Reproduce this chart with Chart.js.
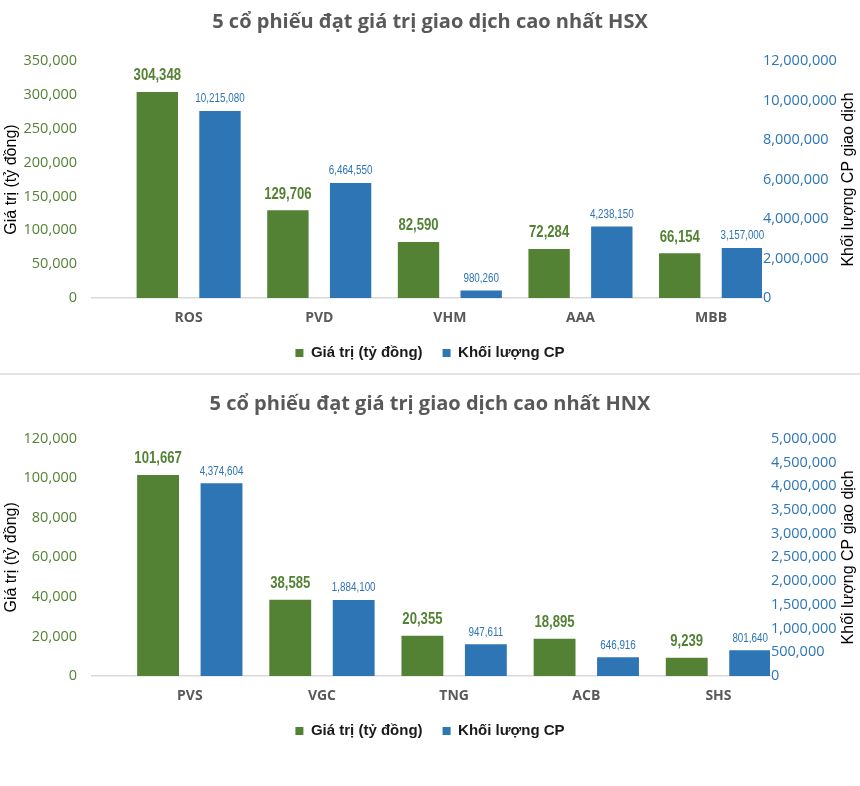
<!DOCTYPE html>
<html>
<head>
<meta charset="utf-8">
<script src="https://cdn.jsdelivr.net/npm/chart.js@4.4.1/dist/chart.umd.min.js"></script>
<style>
  body { margin: 0; background: #fff; }
  #wrap { width: 860px; height: 786px; position: relative; }
  canvas { display: block; }
  .sep { height: 2px; background: #e4e4e4; margin: 1px 0 2px 0; }
</style>
</head>
<body>
<div id="wrap">
  <canvas id="hsx" width="860" height="372"></canvas>
  <div class="sep"></div>
  <canvas id="hnx" width="860" height="409"></canvas>
</div>
<script>
// HSX
const hsxStocks = ['ROS', 'PVD', 'VHM', 'AAA', 'MBB'];
const hsxValue = [304348, 129706, 82590, 72284, 66154];
const hsxVolume = [9470000, 5820000, 385000, 3620000, 2530000];   // bar heights as drawn
const hsxVolumeText = [10215080, 6464550, 980260, 4238150, 3157000]; // printed labels
const hsxLeftTicks = { max: 350000, step: 50000 };
const hsxRightTicks = { max: 12000000, step: 2000000 };

// HNX
const hnxStocks = ['PVS', 'VGC', 'TNG', 'ACB', 'SHS'];
const hnxValue = [101667, 38585, 20355, 18895, 9239];
const hnxVolume = [4060000, 1600000, 668000, 394000, 541000];
const hnxVolumeText = [4374604, 1884100, 947611, 646916, 801640];
const hnxLeftTicks = { max: 120000, step: 20000 };
const hnxRightTicks = { max: 5000000, step: 500000 };

const GREEN = '#548235';
const BLUE = '#2E75B6';
const ARIAL = '"Liberation Sans", Arial, sans-serif';

Chart.defaults.font.family = '"Open Sans", sans-serif';
const fmt = v => Number(v).toLocaleString('en-US');

// value labels above bars, squeezed to look like Arial Narrow
const barLabels = {
  id: 'barLabels',
  afterDatasetsDraw(chart) {
    const ctx = chart.ctx;
    chart.data.datasets.forEach((ds, i) => {
      const meta = chart.getDatasetMeta(i);
      meta.data.forEach((bar, j) => {
        ctx.save();
        ctx.translate(bar.x, bar.y - ds.labelGap);
        ctx.scale(0.82, 1);
        ctx.font = ds.labelFont;
        ctx.fillStyle = ds.labelColor;
        ctx.textAlign = 'center';
        ctx.textBaseline = 'middle';
        ctx.fillText(fmt(ds.labelTexts[j]), 0, 0);
        ctx.restore();
      });
    });
  }
};

// right axis title reads bottom-to-top like the left one
const rightTitle = {
  id: 'rightTitle',
  afterDraw(chart, args, opts) {
    const ctx = chart.ctx;
    const a = chart.chartArea;
    ctx.save();
    ctx.translate(opts.x, (a.top + a.bottom) / 2);
    ctx.rotate(-Math.PI / 2);
    ctx.font = '16px ' + ARIAL;
    ctx.fillStyle = '#000';
    ctx.textAlign = 'center';
    ctx.textBaseline = 'middle';
    ctx.fillText(opts.text, 0, 0);
    ctx.restore();
  }
};

function makeChart(id, title, stocks, values, volumes, volumeText, leftT, rightT, lay) {
  new Chart(document.getElementById(id), {
    type: 'bar',
    data: {
      datasets: [{
        label: 'Giá trị (tỷ đồng)',
        data: values.map((v, i) => ({ x: i, y: v })),
        backgroundColor: GREEN,
        yAxisID: 'y',
        labelTexts: values,
        labelFont: 'bold 16px ' + ARIAL,
        labelColor: GREEN,
        labelGap: 16
      }, {
        label: 'Khối lượng CP',
        data: volumes.map((v, i) => ({ x: i, y: v })),
        backgroundColor: BLUE,
        yAxisID: 'y1',
        labelTexts: volumeText,
        labelFont: '12px ' + ARIAL,
        labelColor: BLUE,
        labelGap: 12
      }]
    },
    options: {
      responsive: false,
      animation: false,
      categoryPercentage: 0.96,
      barPercentage: 0.66,
      layout: { padding: { left: 0, right: 0, top: 0, bottom: lay.padBottom } },
      plugins: {
        title: {
          display: true,
          text: title,
          color: '#595959',
          font: { size: 20, weight: 'bold' },
          padding: { top: lay.titleTop, bottom: lay.titleBottom }
        },
        legend: {
          position: 'bottom',
          labels: {
            boxWidth: 8,
            boxHeight: 8,
            padding: 20,
            color: '#1a1a1a',
            font: { family: ARIAL, size: 15, weight: 'bold' }
          }
        },
        tooltip: { enabled: false },
        rightTitle: { text: 'Khối lượng CP giao dịch', x: 849 }
      },
      scales: {
        x: {
          type: 'linear',
          offset: false,
          min: -0.74,
          max: 4.39,
          grid: { display: false, drawTicks: false, offset: false },
          border: { color: '#d9d9d9', width: 1.5 },
          ticks: {
            stepSize: 1,
            includeBounds: false,
            padding: 12,
            color: '#595959',
            font: { size: 14, weight: 'bold' },
            callback: v => stocks[v] || ''
          },
          afterFit: s => { s.height = 27.5; }
        },
        y: {
          position: 'left',
          min: 0,
          max: leftT.max,
          grid: { display: false, drawTicks: false },
          border: { display: false },
          ticks: { stepSize: leftT.step, padding: 15, color: GREEN, font: { size: 14.5 }, callback: fmt },
          title: {
            display: true,
            text: 'Giá trị (tỷ đồng)',
            color: '#000',
            font: { family: ARIAL, size: 16 },
            padding: { top: 2, bottom: 0 }
          },
          afterFit: s => { s.width = 92; }
        },
        y1: {
          position: 'right',
          min: 0,
          max: rightT.max,
          grid: { display: false, drawTicks: false },
          border: { display: false },
          ticks: { stepSize: rightT.step, padding: 1, color: BLUE, font: { size: 14.5 }, callback: fmt },
          afterFit: s => { s.width = lay.rightW; }
        }
      }
    },
    plugins: [barLabels, rightTitle]
  });
}

makeChart('hsx', '5 cổ phiếu đạt giá trị giao dịch cao nhất HSX',
  hsxStocks, hsxValue, hsxVolume, hsxVolumeText, hsxLeftTicks, hsxRightTicks,
  { titleTop: 10, titleBottom: 27, padBottom: 1.5, rightW: 98 });

makeChart('hnx', '5 cổ phiếu đạt giá trị giao dịch cao nhất HNX',
  hnxStocks, hnxValue, hnxVolume, hnxVolumeText, hnxLeftTicks, hnxRightTicks,
  { titleTop: 15, titleBottom: 22.7, padBottom: 37.5, rightW: 90 });
</script>
</body>
</html>
